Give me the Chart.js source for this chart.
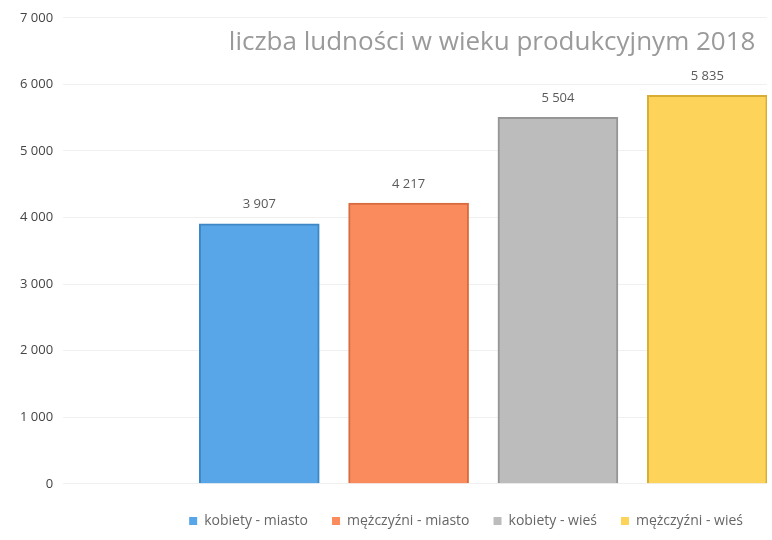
<!DOCTYPE html>
<html>
<head>
<meta charset="utf-8">
<script src="https://cdn.jsdelivr.net/npm/chart.js@4.4.0/dist/chart.umd.min.js"></script>
<style>
  html, body { margin: 0; padding: 0; background: #fff; }
  #wrap { width: 772px; height: 540px; }
</style>
</head>
<body>
<div id="wrap"><canvas id="chart"></canvas></div>
<script>
const categories = ['kobiety - miasto', 'mężczyźni - miasto', 'kobiety - wieś', 'mężczyźni - wieś'];
const values = [3907, 4217, 5504, 5835];
const yTicks = [0, 1000, 2000, 3000, 4000, 5000, 6000, 7000];
const barColors = ['#58a6e8', '#fa8b5c', '#bcbcbc', '#fdd35a'];
const edgeColors = ['#3f86c4', '#d96c3f', '#959595', '#d9ad35'];
const title = 'liczba ludności w wieku produkcyjnym 2018';

function fmt(v) {
    return String(v).replace(/\B(?=(\d{3})+(?!\d))/g, ' ');
}

// title sits inside the plot area, values over the bars
const overlay = {
    id: 'overlay',
    afterDatasetsDraw(chart) {
        const ctx = chart.ctx;
        const area = chart.chartArea;
        ctx.save();
        ctx.fillStyle = '#9a9a9a';
        ctx.font = '26px "Open Sans", sans-serif';
        ctx.textAlign = 'center';
        ctx.textBaseline = 'middle';
        ctx.fillText(title, area.left + (area.right - area.left) * 0.605, area.top + 25);

        ctx.font = '13px "Open Sans", sans-serif';
        ctx.fillStyle = '#5a5a5a';
        chart.getDatasetMeta(0).data.forEach((bar, i) => {
            ctx.fillText(fmt(values[i]), bar.x, bar.y - 19);
        });
        ctx.restore();
    }
};

new Chart(document.getElementById('chart'), {
    type: 'bar',
    data: {
        datasets: [{
            data: values.map((v, i) => ({ x: i + 1, y: v })),
            backgroundColor: barColors,
            borderColor: edgeColors,
            borderWidth: 2,
            barThickness: 120
        }]
    },
    options: {
        responsive: true,
        maintainAspectRatio: false,
        animation: false,
        layout: { padding: { top: 8, right: 5, left: 10, bottom: 2 } },
        scales: {
            x: {
                type: 'linear',
                display: false,
                offset: false,
                min: -0.26,
                max: 4.4
            },
            y: {
                min: 0,
                max: 7000,
                afterBuildTicks: axis => { axis.ticks = yTicks.map(v => ({ value: v })); },
                border: { display: false },
                grid: { color: '#f0f0f0' },
                ticks: {
                    color: '#444',
                    padding: 10,
                    font: { size: 13, family: 'Open Sans' },
                    callback: v => fmt(v)
                }
            }
        },
        plugins: {
            tooltip: { enabled: false },
            legend: {
                position: 'bottom',
                align: 'end',
                title: { display: true, text: '', font: { size: 1 }, padding: 2.5 },
                labels: {
                    color: '#8a8a8a',
                    boxWidth: 8,
                    boxHeight: 8,
                    padding: 24,
                    font: { size: 14, family: 'Open Sans' },
                    generateLabels: () => categories.map((c, i) => ({
                        text: c,
                        fillStyle: barColors[i],
                        strokeStyle: barColors[i],
                        lineWidth: 0,
                        index: i
                    }))
                }
            }
        }
    },
    plugins: [overlay]
});
</script>
</body>
</html>
